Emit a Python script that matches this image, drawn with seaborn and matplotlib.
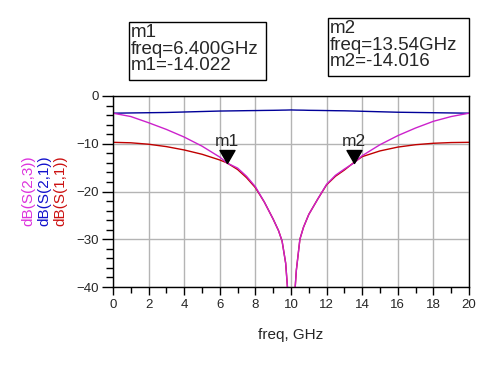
import numpy as np, pandas as pd, matplotlib
matplotlib.use('Agg')
import matplotlib.pyplot as plt
from matplotlib.path import Path
from matplotlib.patches import Rectangle
from matplotlib.ticker import MultipleLocator
import seaborn as sns

sns.set_style('white')
plt.rcParams['font.family'] = ['Liberation Sans', 'DejaVu Sans']

# values (dB vs freq in GHz)
freq = [0, 1, 2, 3, 4, 5, 6, 6.4, 7, 7.5, 8, 8.5, 9, 9.3, 9.5, 9.7, 9.8, 9.9, 10,
        10.1, 10.2, 10.3, 10.5, 10.7, 11, 11.5, 12, 12.5, 13, 13.54, 14, 15, 16, 17, 18, 19, 20]
s23 = [-3.6, -4.3, -5.6, -7.0, -8.6, -10.5, -12.8, -14.02, -15.1, -16.8, -19.0, -22.2, -25.8, -28.2, -30.4, -35.0, -40.0, -48.0, -60.0,
       -50.0, -42.0, -36.5, -30.0, -27.5, -24.8, -21.6, -18.5, -16.6, -15.3, -14.016, -12.5, -10.2, -8.3, -6.7, -5.3, -4.3, -3.6]
s21 = [-3.6, -3.55, -3.5, -3.45, -3.35, -3.25, -3.15, -3.13, -3.1, -3.07, -3.05, -3.02, -3.0, -2.98, -2.96, -2.95, -2.94, -2.93, -2.92,
       -2.93, -2.94, -2.95, -2.96, -2.97, -3.0, -3.02, -3.05, -3.08, -3.1, -3.15, -3.2, -3.3, -3.4, -3.45, -3.5, -3.55, -3.6]
s11 = [-9.7, -9.8, -10.1, -10.6, -11.3, -12.2, -13.4, -14.0, -15.4, -17.1, -19.2, -22.2, -25.8, -28.2, -30.4, -35.0, -40.0, -48.0, -60.0,
       -50.0, -42.0, -36.5, -30.0, -27.5, -24.8, -21.6, -18.6, -16.8, -15.5, -13.9, -12.7, -11.5, -10.7, -10.2, -9.9, -9.75, -9.7]

labels = ['dB(S(2,3))', 'dB(S(2,1))', 'dB(S(1,1))']
colors = ['#cc22cc', '#000099', '#c00000']
label_colors = ['#dd33dd', '#1111cc', '#cc1111']

mk_names = ['m1', 'm2']
mk_freq = [6.400, 13.54]
mk_val = [-14.022, -14.016]
mk_freq_txt = ['6.400GHz', '13.54GHz']

df = pd.DataFrame({'freq': freq, 's23': s23, 's21': s21, 's11': s11})

W, H = 493, 369
fig = plt.figure(figsize=(W / 100, H / 100), dpi=100)
ax = fig.add_axes([113 / W, 1 - 287 / H, 356 / W, 191 / H])

sns.lineplot(data=df, x='freq', y='s11', color=colors[2], lw=1, ax=ax)
sns.lineplot(data=df, x='freq', y='s21', color=colors[1], lw=1, ax=ax)
sns.lineplot(data=df, x='freq', y='s23', color=colors[0], lw=1, ax=ax)

ax.set_xlim(0, 20)
ax.set_ylim(-40, 0)
ax.xaxis.set_major_locator(MultipleLocator(2))
ax.xaxis.set_minor_locator(MultipleLocator(1))
ax.yaxis.set_major_locator(MultipleLocator(10))
ax.yaxis.set_minor_locator(MultipleLocator(2))
ax.grid(True, which='major', color='#b4b4b4', lw=1)
ax.tick_params(which='major', direction='out', length=8, width=1, color='black',
               labelsize=9.5, pad=2, left=True, bottom=True)
ax.tick_params(which='minor', direction='out', length=5, width=1, color='black',
               left=True, bottom=True)
ax.tick_params(axis='x', which='major', length=6, pad=3)
ax.tick_params(axis='x', which='minor', length=4)
for sp in ax.spines.values():
    sp.set_color('black')
    sp.set_linewidth(1)
ax.set_xlabel('freq, GHz', fontsize=11, labelpad=12)
ax.set_ylabel('')

# stacked trace names on the left
for i, (lab, c) in enumerate(zip(labels, label_colors)):
    fig.text((28 + 16 * i) / W, 1 - 191 / H, lab, rotation=90, color=c,
             fontsize=11, ha='center', va='center')

# markers: triangle with tip on the trace
tri = Path([(0, 0), (-0.577, 1), (0.577, 1), (0, 0)],
           [Path.MOVETO, Path.LINETO, Path.LINETO, Path.CLOSEPOLY])
for name, f, v in zip(mk_names, mk_freq, mk_val):
    ax.plot([f], [v], marker=tri, ms=18.7, color='black', ls='none', zorder=5)
    ax.annotate(name, (f, v), xytext=(0, 12.3), textcoords='offset points',
                ha='center', va='baseline', fontsize=12.5, zorder=6)

# readout boxes
boxes = [(129, 22, 266, 80), (328, 18, 469, 76)]
for (x0, y0, x1, y1), name, ftxt, v in zip(boxes, mk_names, mk_freq_txt, mk_val):
    fig.patches.append(Rectangle((x0 / W, 1 - y1 / H), (x1 - x0) / W, (y1 - y0) / H,
                                 transform=fig.transFigure, fill=False,
                                 edgecolor='black', lw=1))
    fig.text((x0 + 2) / W, 1 - (y0 + 2) / H,
             f'{name}\nfreq={ftxt}\n{name}={v:.3f}',
             fontsize=13.5, linespacing=0.98, ha='left', va='top')

fig.savefig('out.png', dpi=100, facecolor='white')
